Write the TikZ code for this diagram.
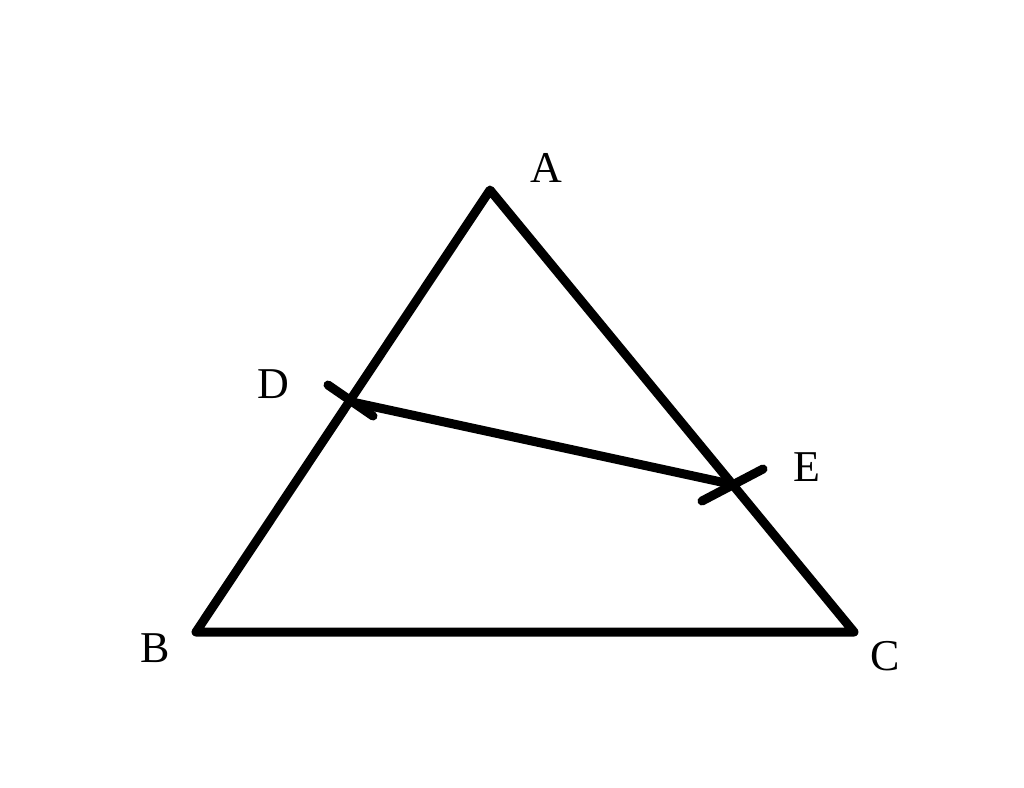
\documentclass[tikz,border=0pt]{standalone}
\usepackage{fontspec}
\setmainfont{Liberation Serif}
\begin{document}
\begin{tikzpicture}[x=1pt,y=-1pt,
  stroke/.style={line width=9pt,line cap=round,line join=round},
  lbl/.style={font=\fontsize{44}{48}\selectfont,inner sep=0pt}]
\useasboundingbox (0,0) rectangle (1024,787);
\coordinate (A) at (490,190);
\coordinate (B) at (196,632);
\coordinate (C) at (854,632);
\coordinate (D) at (352,402);
\coordinate (E) at (735,485);
\coordinate (d1) at (328,385);
\coordinate (d2) at (373,416);
\coordinate (e1) at (763,469);
\coordinate (e2) at (702,501);
\draw[stroke] (A) -- (B) -- (C) -- cycle;
\draw[stroke] (D) -- (E);
\draw[stroke] (d1) -- (d2);
\draw[stroke] (e1) -- (e2);
\node[lbl] (la) at (546,168) {A};
\node[lbl] (lb) at (155,648) {B};
\node[lbl] (lc) at (885,656) {C};
\node[lbl] (ld) at (273,384) {D};
\node[lbl] (le) at (807,467) {E};
\end{tikzpicture}
\end{document}
